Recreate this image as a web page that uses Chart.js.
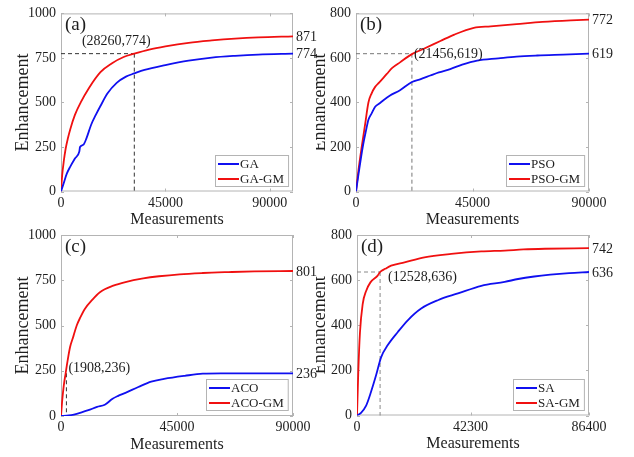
<!DOCTYPE html>
<html>
<head>
<meta charset="utf-8">
<script src="https://cdn.jsdelivr.net/npm/chart.js@4.4.0/dist/chart.umd.min.js"></script>
<style>
  body { margin: 0; background: #fff; }
  .wrap { position: relative; width: 634px; height: 457px; }
  canvas { position: absolute; left: 0; top: 0; }
  .right { position: absolute; left: 316px; top: 0; width: 318px; height: 457px; overflow: hidden; }
  .right canvas { left: -316px; }
</style>
</head>
<body>
<div class="wrap">
  <canvas id="pa" width="634" height="457"></canvas>
  <canvas id="pc" width="634" height="457"></canvas>
  <div class="right">
    <canvas id="pb" width="634" height="457"></canvas>
    <canvas id="pd" width="634" height="457"></canvas>
  </div>
</div>
<script>
// (a) GA
const gaMeas   = [0, 1000, 2500, 4000, 6000, 7900, 8200, 9600, 11000, 13000, 15000, 17000, 20000, 24000, 28000, 31600, 36000, 45000, 55000, 65000, 75000, 85000, 100000];
const gaEnh    = [0, 40, 100, 140, 185, 225, 250, 262, 300, 375, 430, 480, 550, 610, 645, 663, 683, 710, 735, 752, 762, 769, 774];
const gaGmMeas = [0, 500, 1200, 2000, 3000, 4000, 6000, 8500, 12000, 17000, 22000, 27000, 31600, 38000, 45000, 55000, 65000, 75000, 85000, 100000];
const gaGmEnh  = [0, 90, 170, 240, 300, 350, 430, 500, 580, 670, 720, 755, 774, 797, 815, 835, 848, 858, 865, 871];

// (b) PSO
const psoMeas   = [0, 1000, 2600, 3800, 4800, 6000, 7400, 9000, 10600, 13000, 17000, 21600, 25000, 28700, 32000, 36400, 41000, 46800, 55000, 62000, 70000, 80000, 90000];
const psoEnh    = [0, 80, 200, 270, 322, 350, 381, 395, 410, 430, 455, 492, 505, 521, 535, 550, 570, 588, 598, 606, 611, 615, 619];
const psoGmMeas = [0, 1000, 2200, 3500, 4800, 6000, 7400, 9000, 11900, 14000, 17000, 21600, 26000, 32600, 38000, 45500, 52000, 62000, 72000, 83000, 90000];
const psoGmEnh  = [0, 100, 200, 300, 400, 440, 470, 490, 528, 555, 580, 617, 640, 676, 705, 735, 742, 752, 762, 769, 772];

// (c) ACO
const acoMeas   = [0, 3000, 5000, 8000, 10600, 14000, 17000, 20000, 22000, 25000, 30000, 35000, 40000, 48000, 55000, 62000, 75000, 90000];
const acoEnh    = [0, 3, 8, 20, 32, 50, 62, 95, 110, 128, 160, 190, 205, 222, 234, 236, 236, 236];
const acoGmMeas = [0, 500, 1100, 1800, 2500, 3500, 4800, 6100, 7500, 9300, 12000, 15100, 20300, 25000, 31900, 38000, 46000, 55000, 65000, 75000, 90000];
const acoGmEnh  = [0, 90, 170, 236, 300, 380, 440, 500, 545, 593, 640, 684, 720, 740, 760, 772, 783, 790, 795, 799, 801];

// (d) SA
const saMeas   = [0, 1500, 3400, 5200, 7100, 9000, 11400, 15200, 18900, 23900, 30100, 37600, 46300, 55000, 60000, 66000, 72000, 79000, 86400];
const saEnh    = [0, 12, 44, 104, 178, 259, 311, 370, 422, 474, 511, 541, 575, 592, 605, 616, 624, 631, 636];
const saGmMeas = [0, 300, 500, 1100, 2100, 3400, 5000, 7700, 8600, 10500, 12700, 17700, 25100, 35100, 46300, 55000, 62000, 70000, 86400];
const saGmEnh  = [0, 120, 200, 367, 493, 552, 590, 620, 636, 650, 664, 679, 701, 716, 727, 731, 736, 739, 742];

// axis ticks
const xTicksA = [0, 45000, 90000];
const xTicksB = [0, 45000, 90000];
const xTicksC = [0, 45000, 90000];
const xTicksD = [0, 42300, 86400];
const yTicksA = [0, 250, 500, 750, 1000];
const yTicksB = [0, 200, 400, 600, 800];
const yTicksC = [0, 250, 500, 750, 1000];
const yTicksD = [0, 200, 400, 600, 800];

// marked points (x, y) and their labels
const markMeas = [31600, 21600, 2100, 8600];
const markEnh  = [774, 619, 236, 636];
const markText = ['(28260,774)', '(21456,619)', '(1908,236)', '(12528,636)'];

const serif = "'Liberation Serif', 'Times New Roman', serif";
const textColor = '#1e1e1e';
const frameColor = '#b4b4b4';
const W = 634, H = 457;

function pts(xs, ys) {
    return xs.map((v, i) => ({x: v, y: ys[i]}));
}

const decor = {
    id: 'decor',
    beforeDatasetsDraw(chart, args, o) {
        const {ctx, chartArea: a, scales: {x, y}} = chart;
        ctx.save();
        ctx.strokeStyle = frameColor;
        ctx.lineWidth = 1;
        ctx.strokeRect(a.left + 0.5, a.top + 0.5, a.width - 1, a.height - 1);
        ctx.beginPath();
        x.ticks.forEach(t => {
            const px = Math.round(x.getPixelForValue(t.value)) + 0.5;
            ctx.moveTo(px, a.bottom); ctx.lineTo(px, a.bottom - 3);
            ctx.moveTo(px, a.top); ctx.lineTo(px, a.top + 3);
        });
        y.ticks.forEach(t => {
            const py = Math.round(y.getPixelForValue(t.value)) + 0.5;
            ctx.moveTo(a.left, py); ctx.lineTo(a.left + 3, py);
            ctx.moveTo(a.right, py); ctx.lineTo(a.right - 3, py);
        });
        ctx.stroke();

        // dashed guide lines
        const mx = x.getPixelForValue(o.mx), my = y.getPixelForValue(o.my);
        ctx.setLineDash([4, 3]);
        ctx.strokeStyle = o.dashColor;
        ctx.beginPath();
        if (o.hline) {
            ctx.moveTo(a.left, my); ctx.lineTo(mx, my);
        }
        ctx.moveTo(mx, my); ctx.lineTo(mx, a.bottom);
        ctx.stroke();
        ctx.restore();
    },
    afterDatasetsDraw(chart, args, o) {
        const {ctx, chartArea: a, scales: {x, y}} = chart;
        const ds = chart.data.datasets;
        ctx.save();
        ctx.fillStyle = textColor;

        // panel tag
        ctx.font = '19px ' + serif;
        ctx.textAlign = 'left';
        ctx.textBaseline = 'middle';
        ctx.fillText(o.tag, a.left + 4, a.top + 12);

        // mark label
        ctx.font = '14px ' + serif;
        ctx.textAlign = o.textAlign;
        ctx.fillText(o.text, x.getPixelForValue(o.mx) + o.dx, y.getPixelForValue(o.my) + o.dy);

        // final values on the right
        ctx.textAlign = 'left';
        ds.forEach(d => {
            const last = d.data[d.data.length - 1];
            ctx.fillText(String(last.y), a.right + 3, y.getPixelForValue(last.y) + 1);
        });

        // legend box
        ctx.font = '13px ' + serif;
        const tw = Math.max(...ds.map(d => ctx.measureText(d.label).width));
        const bw = 3 + 21 + 1 + tw + 4, bh = 31;
        const bx = Math.round(a.right - 5 - bw), by = Math.round(a.bottom - 6 - bh);
        ctx.fillStyle = '#fff';
        ctx.fillRect(bx, by, bw, bh);
        ctx.strokeStyle = frameColor;
        ctx.lineWidth = 1;
        ctx.strokeRect(bx + 0.5, by + 0.5, bw, bh);
        ds.forEach((d, i) => {
            const ry = by + 9 + i * 15;
            ctx.strokeStyle = d.borderColor;
            ctx.lineWidth = 2;
            ctx.beginPath();
            ctx.moveTo(bx + 3, ry); ctx.lineTo(bx + 24, ry);
            ctx.stroke();
            ctx.fillStyle = textColor;
            ctx.fillText(d.label, bx + 25, ry + 1);
        });
        ctx.restore();
    }
};

function makePanel(id, p) {
    const yw = 52, xh = 38;
    new Chart(document.getElementById(id), {
        type: 'line',
        data: {
            datasets: p.series.map(s => ({
                label: s.label,
                data: pts(s.xs, s.ys),
                borderColor: s.color,
                borderWidth: 1.8,
                pointRadius: 0,
                fill: false,
                cubicInterpolationMode: 'monotone'
            }))
        },
        options: {
            responsive: false,
            animation: false,
            layout: {
                padding: {left: p.l - yw, right: W - p.r, top: p.t, bottom: H - p.b - xh}
            },
            plugins: {
                legend: {display: false},
                tooltip: {enabled: false},
                decor: p.decor
            },
            scales: {
                x: {
                    type: 'linear',
                    min: 0,
                    max: p.xMax,
                    afterBuildTicks: s => { s.ticks = p.xTicks.map(v => ({value: v})); },
                    afterFit: s => { s.height = xh; },
                    grid: {display: false, drawTicks: false},
                    border: {display: false},
                    ticks: {
                        padding: 3,
                        maxRotation: 0,
                        color: textColor,
                        font: {family: serif, size: 14},
                        callback: v => String(v)
                    },
                    title: {
                        display: true,
                        text: 'Measurements',
                        color: textColor,
                        padding: {top: 0, bottom: 0},
                        font: {family: serif, size: 16}
                    }
                },
                y: {
                    min: 0,
                    max: p.yMax,
                    afterBuildTicks: s => { s.ticks = p.yTicks.map(v => ({value: v})); },
                    afterFit: s => { s.width = yw; },
                    grid: {display: false, drawTicks: false},
                    border: {display: false},
                    ticks: {
                        padding: 5,
                        color: textColor,
                        font: {family: serif, size: 14},
                        callback: v => String(v)
                    },
                    title: {
                        display: true,
                        text: 'Enhancement',
                        color: textColor,
                        padding: {top: p.titlePad, bottom: 0},
                        font: {family: serif, size: 18}
                    }
                }
            }
        },
        plugins: [decor]
    });
}

const blue = '#1010f0';
const red = '#f01010';

makePanel('pa', {
    l: 61, r: 293, t: 9, b: 191.5, xMax: 100000, yMax: 1000, xTicks: xTicksA, yTicks: yTicksA, titlePad: 3,
    series: [
        {label: 'GA', color: blue, xs: gaMeas, ys: gaEnh},
        {label: 'GA-GM', color: red, xs: gaGmMeas, ys: gaGmEnh}
    ],
    decor: {tag: '(a)', mx: markMeas[0], my: markEnh[0], text: markText[0], hline: true,
            dashColor: '#333', textAlign: 'center', dx: -18, dy: -12}
});
makePanel('pb', {
    l: 356, r: 589, t: 9, b: 191.5, xMax: 90000, yMax: 800, xTicks: xTicksB, yTicks: yTicksB, titlePad: 5,
    series: [
        {label: 'PSO', color: blue, xs: psoMeas, ys: psoEnh},
        {label: 'PSO-GM', color: red, xs: psoGmMeas, ys: psoGmEnh}
    ],
    decor: {tag: '(b)', mx: markMeas[1], my: markEnh[1], text: markText[1], hline: true,
            dashColor: '#777', textAlign: 'left', dx: 2, dy: 1}
});
makePanel('pc', {
    l: 61, r: 293, t: 235, b: 416, xMax: 90000, yMax: 1000, xTicks: xTicksC, yTicks: yTicksC, titlePad: 3,
    series: [
        {label: 'ACO', color: blue, xs: acoMeas, ys: acoEnh},
        {label: 'ACO-GM', color: red, xs: acoGmMeas, ys: acoGmEnh}
    ],
    decor: {tag: '(c)', mx: markMeas[2], my: markEnh[2], text: markText[2], hline: false,
            dashColor: '#333', textAlign: 'left', dx: 2, dy: -5}
});
makePanel('pd', {
    l: 357, r: 589, t: 235, b: 415.5, xMax: 86400, yMax: 800, xTicks: xTicksD, yTicks: yTicksD, titlePad: 4,
    series: [
        {label: 'SA', color: blue, xs: saMeas, ys: saEnh},
        {label: 'SA-GM', color: red, xs: saGmMeas, ys: saGmEnh}
    ],
    decor: {tag: '(d)', mx: markMeas[3], my: markEnh[3], text: markText[3], hline: true,
            dashColor: '#888', textAlign: 'left', dx: 8, dy: 5}
});
</script>
</body>
</html>
